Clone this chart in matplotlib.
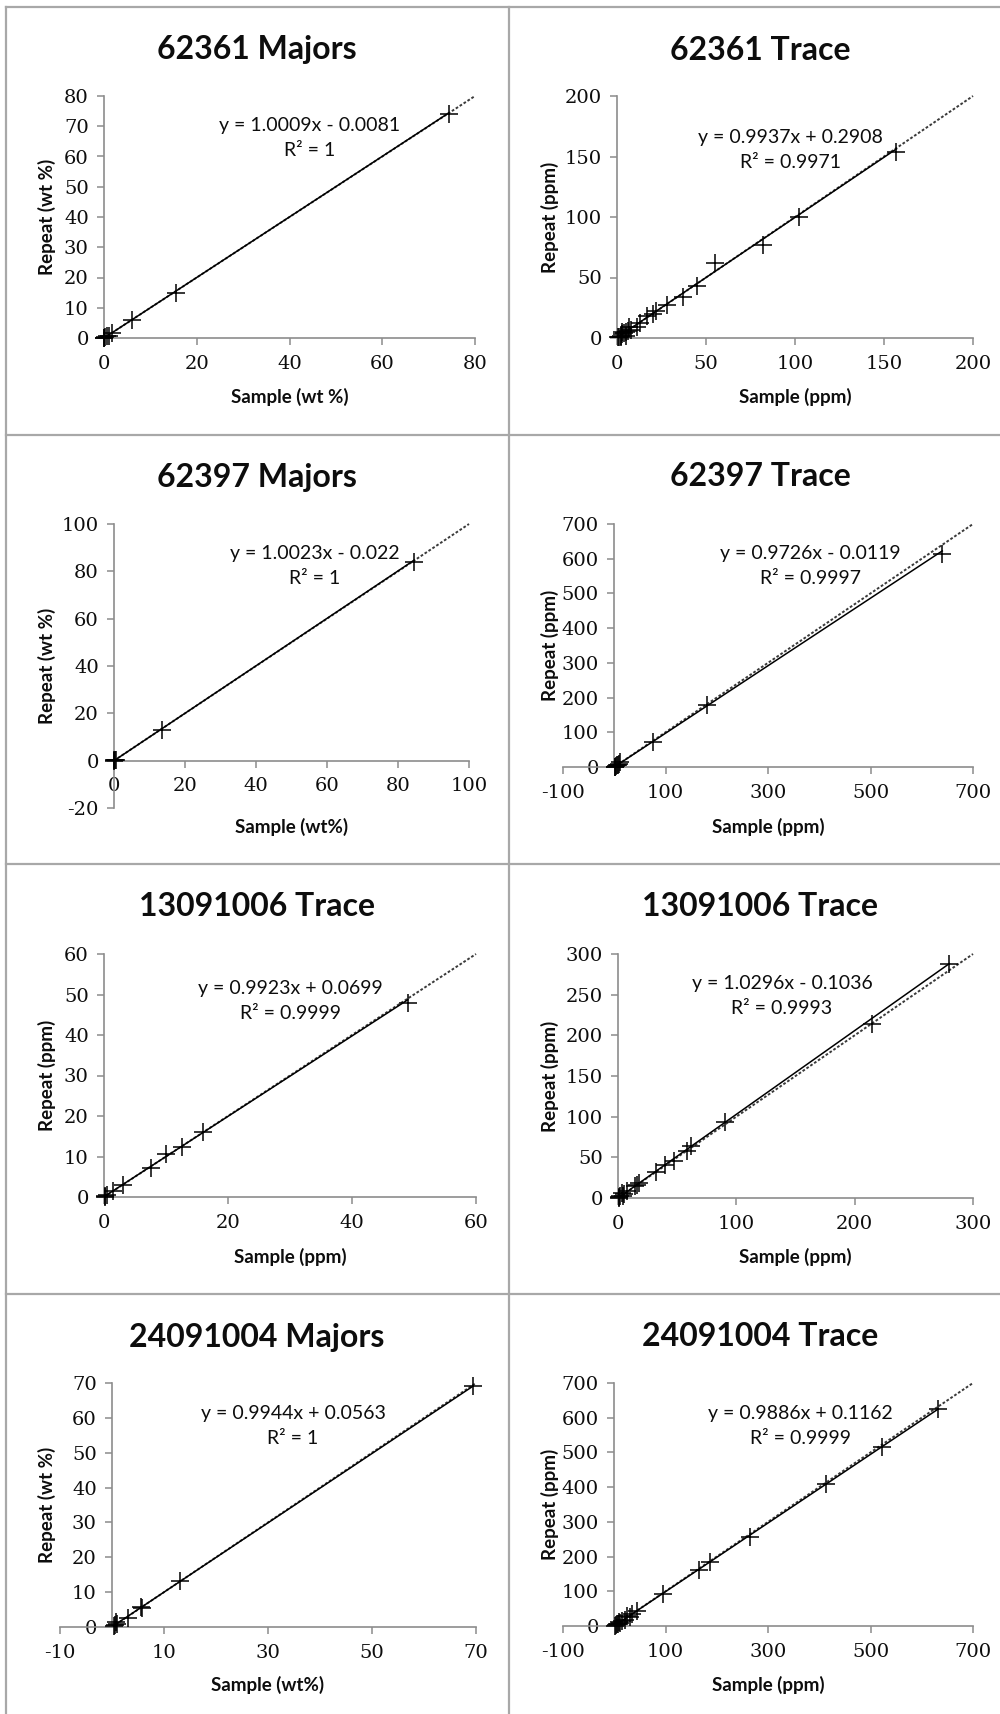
import matplotlib.pyplot as plt

plt.rcParams['axes.unicode_minus'] = False

# Repeat analyses vs. original sample values, one panel per run
titles = ['62361 Majors', '62361 Trace', '62397 Majors', '62397 Trace',
          '13091006 Trace', '13091006 Trace', '24091004 Majors', '24091004 Trace']
xlabels = ['Sample (wt %)', 'Sample (ppm)', 'Sample (wt%)', 'Sample (ppm)',
           'Sample (ppm)', 'Sample (ppm)', 'Sample (wt%)', 'Sample (ppm)']
ylabels = ['Repeat (wt %)', 'Repeat (ppm)', 'Repeat (wt %)', 'Repeat (ppm)',
           'Repeat (ppm)', 'Repeat (ppm)', 'Repeat (wt %)', 'Repeat (ppm)']
xlims = [(0, 80), (0, 200), (0, 100), (-100, 700), (0, 60), (0, 300), (-10, 70), (-100, 700)]
ylims = [(0, 80), (0, 200), (-20, 100), (0, 700), (0, 60), (0, 300), (0, 70), (0, 700)]
xticks = [[0, 20, 40, 60, 80], [0, 50, 100, 150, 200], [0, 20, 40, 60, 80, 100],
          [-100, 100, 300, 500, 700], [0, 20, 40, 60], [0, 100, 200, 300],
          [-10, 10, 30, 50, 70], [-100, 100, 300, 500, 700]]
yticks = [[0, 10, 20, 30, 40, 50, 60, 70, 80], [0, 50, 100, 150, 200],
          [-20, 0, 20, 40, 60, 80, 100], [0, 100, 200, 300, 400, 500, 600, 700],
          [0, 10, 20, 30, 40, 50, 60], [0, 50, 100, 150, 200, 250, 300],
          [0, 10, 20, 30, 40, 50, 60, 70], [0, 100, 200, 300, 400, 500, 600, 700]]
slopes = [1.0009, 0.9937, 1.0023, 0.9726, 0.9923, 1.0296, 0.9944, 0.9886]
intercepts = [-0.0081, 0.2908, -0.022, -0.0119, 0.0699, -0.1036, 0.0563, 0.1162]
r2 = ['1', '0.9971', '1', '0.9997', '0.9999', '0.9993', '1', '0.9999']

samples = [
    [74.3, 15.5, 6.1, 1.8, 1.0, 0.6, 0.3, 0.1, 0.05],
    [157, 102, 82, 55, 45, 37, 28, 22, 20, 17, 13, 11, 8, 6, 5, 4, 3, 2.5, 2, 1, 0.5, 5, 3, 7],
    [84.5, 13.5, 0.5, 0.2, 0.1, 0.05],
    [640, 180, 75, 12, 10, 8, 5, 3, 1, 0.5],
    [49, 16, 12.5, 10, 7.5, 3, 1.5, 0.5, 0.2, 0.1],
    [280, 215, 90, 62, 58, 47, 40, 32, 18, 16, 14, 8, 5, 4, 3, 2, 1, 0.5],
    [69.5, 13, 5.8, 5.5, 3, 1, 0.5, 0.8, 0.3],
    [632, 522, 413, 265, 187, 165, 95, 45, 35, 30, 25, 20, 15, 12, 10, 8, 5, 3, 1],
]
repeats = [
    [74.2, 14.8, 6.0, 1.6, 0.8, 0.5, 0.3, 0.1, 0.05],
    [154, 100, 77, 62, 43, 34, 27, 22, 20, 18, 12, 9, 7, 6, 5, 4, 3, 2, 1, 1, 0.5, 2, 5, 9],
    [84, 13, 0.3, 0.2, 0.1, 0.05],
    [615, 180, 72, 14, 10, 6, 5, 3, 1, 0.5],
    [48, 16, 12.3, 10.5, 7.2, 3, 1.5, 0.5, 0.3, 0],
    [288, 214, 93, 64, 58, 46, 40, 32, 18, 16, 15, 8, 5, 3, 6, 2, 1, 0.5],
    [69, 13.3, 5.5, 5.8, 2.5, 1, 0.5, 1.5, 0.2],
    [624, 516, 410, 255, 184, 160, 92, 42, 35, 25, 28, 18, 14, 10, 12, 6, 5, 2, 1],
]

# plot-area boxes in pixels: left, right, top, bottom
boxes = [(104, 475, 96, 338), (617, 973, 96, 338),
         (114, 469, 524, 808), (563, 973, 524, 767),
         (104, 476, 954, 1197), (618, 973, 954, 1198),
         (60, 476, 1383, 1627), (563, 973, 1383, 1626)]
title_y = [50, 50, 477, 477, 907, 907, 1337, 1337]
xlabel_y = [397, 397, 827, 827, 1257, 1257, 1685, 1685]
eq_pos = [(310, 126), (790, 137), (315, 554), (810, 553),
          (290, 988), (782, 984), (293, 1413), (800, 1413)]

W, H = 1000, 1714
fig = plt.figure(figsize=(W / 100, H / 100), dpi=100)
fig.patch.set_facecolor('white')

def fx(px):
    return px / W

def fy(py):
    return 1 - py / H

sans = ['Lato', 'DejaVu Sans']
serif = ['DejaVu Serif']
axis_grey = '#8c8c8c'
ink = '#0d0d0d'

# panel borders
for py in [7, 435, 864, 1294]:
    fig.add_artist(plt.Line2D([fx(6), 1], [fy(py), fy(py)], color='#a8a8a8', lw=1.6))
for px in [6, 509]:
    fig.add_artist(plt.Line2D([fx(px), fx(px)], [fy(7), 0], color='#a8a8a8', lw=1.6))

for i in range(8):
    l, r, t, b = boxes[i]
    ax = fig.add_axes([fx(l), fy(b), fx(r - l), (b - t) / H])
    ax.set_xlim(*xlims[i])
    ax.set_ylim(*ylims[i])
    ax.patch.set_alpha(0)

    for s in ['top', 'right']:
        ax.spines[s].set_visible(False)
    ax.spines['left'].set_position(('data', 0))
    ax.spines['bottom'].set_position(('data', 0))
    for s in ['left', 'bottom']:
        ax.spines[s].set_color(axis_grey)
        ax.spines[s].set_linewidth(1.2)

    ax.set_xticks(xticks[i])
    ax.set_yticks(yticks[i])
    ax.tick_params(direction='out', length=5, width=1.1, color=axis_grey,
                   labelsize=14, labelcolor=ink)
    ax.tick_params(axis='x', pad=7)
    ax.tick_params(axis='y', pad=6)
    for lab in ax.get_xticklabels() + ax.get_yticklabels():
        lab.set_family(serif)

    # 1:1 reference line
    top = min(xlims[i][1], ylims[i][1])
    ax.plot([0, top], [0, top], color='#3a3a3a', lw=1.4, ls=(0, (1.4, 1.0)),
            clip_on=False, zorder=2)

    # linear trend line
    x0, x1 = min(samples[i]), max(samples[i])
    ax.plot([x0, x1], [slopes[i] * x0 + intercepts[i], slopes[i] * x1 + intercepts[i]],
            color='black', lw=1.1, zorder=3)

    ax.plot(samples[i], repeats[i], ls='none', marker='+', ms=13, mew=1.1,
            color='black', clip_on=False, zorder=4)

    sign = '+' if intercepts[i] >= 0 else '-'
    eq = f'y = {slopes[i]:g}x {sign} {abs(intercepts[i]):g}'
    ex, ey = eq_pos[i]
    fig.text(fx(ex), fy(ey), eq, ha='center', va='center', fontsize=14,
             family=sans, color=ink)
    fig.text(fx(ex), fy(ey + 25), f'R² = {r2[i]}', ha='center', va='center',
             fontsize=14, family=sans, color=ink)

    cx = fx((l + r) / 2)
    col_c = 257 if l < 500 else 760
    fig.text(fx(col_c), fy(title_y[i]), titles[i], ha='center', va='center',
             fontsize=23, fontweight='bold', family=sans, color=ink)
    fig.text(cx, fy(xlabel_y[i]), xlabels[i], ha='center', va='center',
             fontsize=13.5, fontweight='bold', family=sans, color=ink)
    ylx = 47 if l < 500 else 550
    fig.text(fx(ylx), fy((t + b) / 2), ylabels[i], ha='center', va='center',
             rotation=90, fontsize=13.5, fontweight='bold', family=sans, color=ink)

fig.savefig('out.png', dpi=100, facecolor='white')
